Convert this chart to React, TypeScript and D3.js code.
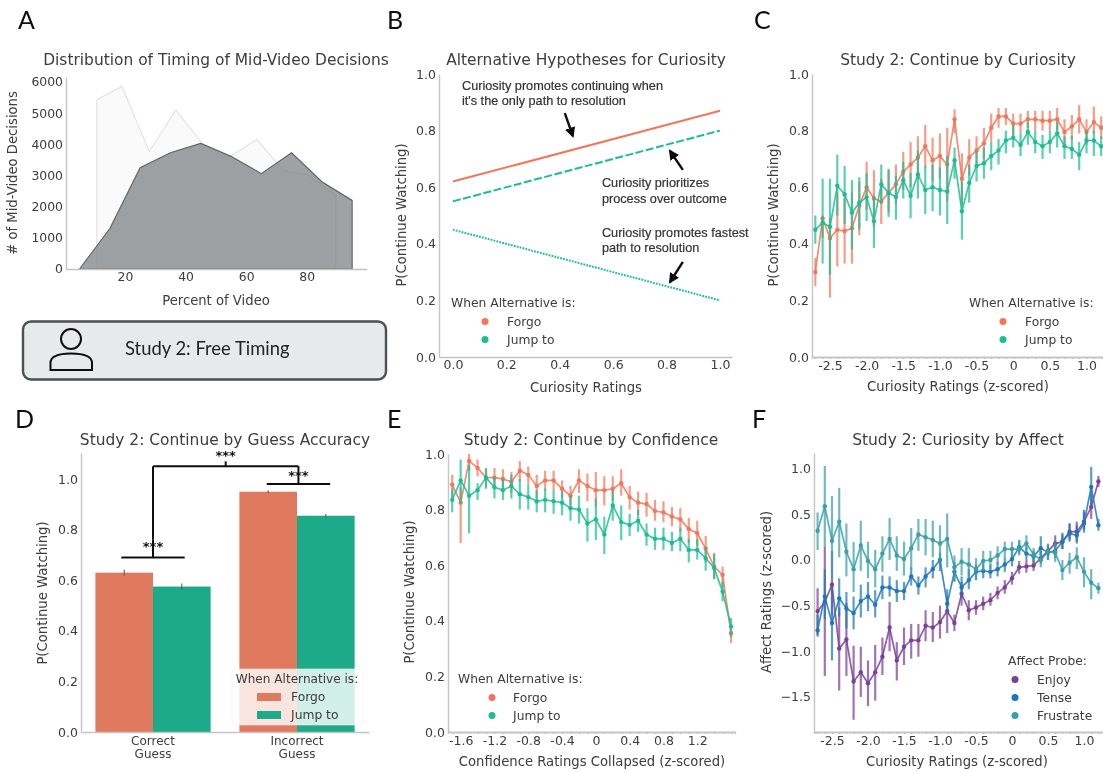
import React, { useEffect, useRef } from 'react';
import * as d3 from 'd3';

// colours
const FORGO = '#f0785a';
const JUMP = '#1dbd93';
const FORGO_BAR = '#e07a5f';
const JUMP_BAR = '#1aaa88';
const ENJOY = '#7b3f98';
const TENSE = '#1f78b8';
const FRUSTRATE = '#3a9fa8';
const INK = '#3c3c3c';
const SPINE = '#c4c4c4';
const FONT = '"DejaVu Sans", sans-serif';

// A: timing distributions
const backPct = [10.7, 19, 28, 36.8, 45.5, 54.5, 63.5, 72.5, 81, 89.6];
const backCount = [5430, 5860, 3770, 5100, 4030, 3600, 4150, 3150, 3000, 2350];
const frontPct = [5, 15, 25, 35, 45, 55, 65, 75, 85, 95];
const frontCount = [0, 1300, 3250, 3730, 4030, 3620, 3060, 3730, 2800, 2200];

// B: hypothesis lines
const hypX = [0, 1];
const hypForgo = [0.62, 0.87];
const hypJump = [0.55, 0.8];
const hypFastest = [0.45, 0.2];
const hypNotes = [
  { lines: ['Curiosity promotes continuing when', "it's the only path to resolution"], x: 0.034, y: [0.943, 0.89], from: [0.419, 0.862], to: [0.449, 0.781] },
  { lines: ['Curiosity prioritizes', 'process over outcome'], x: 0.558, y: [0.601, 0.544], from: [0.861, 0.661], to: [0.813, 0.728] },
  { lines: ['Curiosity promotes fastest', 'path to resolution'], x: 0.558, y: [0.424, 0.371], from: [0.861, 0.336], to: [0.813, 0.265] },
];

// C: continue by curiosity
const curiosityBins = [-2.7, -2.6, -2.5, -2.4, -2.3, -2.2, -2.1, -2.0, -1.9, -1.8, -1.7, -1.6, -1.5, -1.4, -1.3, -1.2, -1.1, -1.0, -0.9, -0.8, -0.7, -0.6, -0.5, -0.4, -0.3, -0.2, -0.1, 0, 0.1, 0.2, 0.3, 0.4, 0.5, 0.6, 0.7, 0.8, 0.9, 1.0, 1.1, 1.2];
const curForgo = [0.3, 0.49, 0.42, 0.45, 0.445, 0.455, 0.535, 0.6, 0.56, 0.55, 0.58, 0.61, 0.655, 0.68, 0.705, 0.745, 0.695, 0.71, 0.68, 0.84, 0.63, 0.705, 0.73, 0.755, 0.81, 0.85, 0.85, 0.825, 0.825, 0.84, 0.84, 0.835, 0.835, 0.84, 0.795, 0.815, 0.84, 0.795, 0.83, 0.81];
const curForgoLo = [0.25, 0.42, 0.21, 0.32, 0.33, 0.33, 0.43, 0.52, 0.46, 0.47, 0.51, 0.54, 0.59, 0.6, 0.63, 0.67, 0.62, 0.63, 0.55, 0.79, 0.54, 0.64, 0.68, 0.7, 0.76, 0.81, 0.82, 0.78, 0.79, 0.81, 0.8, 0.8, 0.8, 0.8, 0.75, 0.77, 0.79, 0.75, 0.79, 0.77];
const curForgoHi = [0.35, 0.5, 0.49, 0.58, 0.56, 0.58, 0.62, 0.69, 0.66, 0.63, 0.66, 0.68, 0.725, 0.76, 0.78, 0.82, 0.775, 0.79, 0.81, 0.875, 0.72, 0.77, 0.78, 0.81, 0.86, 0.88, 0.88, 0.86, 0.86, 0.87, 0.87, 0.87, 0.87, 0.88, 0.84, 0.855, 0.89, 0.84, 0.885, 0.85];
const curJump = [0.45, 0.475, 0.46, 0.605, 0.575, 0.51, 0.545, 0.565, 0.48, 0.61, 0.58, 0.565, 0.625, 0.57, 0.645, 0.59, 0.6, 0.59, 0.585, 0.695, 0.515, 0.615, 0.675, 0.685, 0.71, 0.73, 0.765, 0.775, 0.75, 0.795, 0.76, 0.745, 0.76, 0.79, 0.745, 0.735, 0.715, 0.765, 0.765, 0.745];
const curJumpLo = [0.4, 0.33, 0.29, 0.5, 0.47, 0.38, 0.45, 0.48, 0.385, 0.54, 0.495, 0.485, 0.56, 0.49, 0.56, 0.505, 0.515, 0.5, 0.47, 0.63, 0.415, 0.545, 0.62, 0.63, 0.66, 0.68, 0.72, 0.74, 0.71, 0.75, 0.72, 0.7, 0.72, 0.74, 0.7, 0.7, 0.66, 0.72, 0.71, 0.71];
const curJumpHi = [0.5, 0.63, 0.63, 0.715, 0.675, 0.625, 0.635, 0.65, 0.57, 0.68, 0.665, 0.64, 0.69, 0.65, 0.73, 0.675, 0.68, 0.67, 0.71, 0.74, 0.62, 0.68, 0.73, 0.74, 0.76, 0.77, 0.8, 0.82, 0.79, 0.83, 0.8, 0.785, 0.8, 0.83, 0.78, 0.78, 0.76, 0.8, 0.8, 0.78];

// D: guess accuracy bars
const guessGroups = [['Correct', 'Guess'], ['Incorrect', 'Guess']];
const guessForgo = [0.63, 0.95];
const guessForgoErr = [0.012, 0.006];
const guessJump = [0.575, 0.855];
const guessJumpErr = [0.012, 0.007];

// E: continue by confidence
const confidenceBins = [-1.7, -1.6, -1.5, -1.4, -1.3, -1.2, -1.1, -1.0, -0.9, -0.8, -0.7, -0.6, -0.5, -0.4, -0.3, -0.2, -0.1, 0, 0.1, 0.2, 0.3, 0.4, 0.5, 0.6, 0.7, 0.8, 0.9, 1.0, 1.1, 1.2, 1.3, 1.4, 1.5, 1.6];
const confForgo = [0.89, 0.825, 0.975, 0.95, 0.915, 0.915, 0.91, 0.9, 0.94, 0.925, 0.885, 0.905, 0.905, 0.875, 0.85, 0.905, 0.885, 0.87, 0.87, 0.875, 0.895, 0.845, 0.825, 0.82, 0.795, 0.79, 0.775, 0.765, 0.73, 0.715, 0.66, 0.595, 0.565, 0.355];
const confForgoLo = [0.84, 0.68, 0.94, 0.92, 0.88, 0.875, 0.87, 0.86, 0.9, 0.89, 0.84, 0.87, 0.87, 0.84, 0.815, 0.86, 0.83, 0.81, 0.815, 0.83, 0.85, 0.8, 0.78, 0.775, 0.76, 0.755, 0.74, 0.72, 0.68, 0.67, 0.61, 0.55, 0.52, 0.32];
const confForgoHi = [0.925, 0.88, 1.0, 0.98, 0.945, 0.95, 0.945, 0.935, 0.975, 0.955, 0.925, 0.94, 0.94, 0.905, 0.885, 0.945, 0.93, 0.935, 0.92, 0.92, 0.945, 0.885, 0.865, 0.86, 0.835, 0.83, 0.81, 0.805, 0.77, 0.76, 0.705, 0.645, 0.595, 0.385];
const confJump = [0.835, 0.905, 0.85, 0.87, 0.915, 0.88, 0.87, 0.885, 0.855, 0.845, 0.83, 0.835, 0.83, 0.825, 0.805, 0.8, 0.75, 0.765, 0.71, 0.815, 0.755, 0.745, 0.76, 0.71, 0.695, 0.695, 0.68, 0.695, 0.655, 0.655, 0.625, 0.59, 0.505, 0.38];
const confJumpLo = [0.79, 0.82, 0.715, 0.835, 0.875, 0.84, 0.835, 0.84, 0.8, 0.8, 0.79, 0.79, 0.785, 0.78, 0.76, 0.75, 0.685, 0.69, 0.64, 0.76, 0.69, 0.705, 0.72, 0.67, 0.655, 0.655, 0.65, 0.65, 0.61, 0.62, 0.58, 0.55, 0.47, 0.34];
const confJumpHi = [0.875, 0.98, 0.96, 0.895, 0.95, 0.92, 0.91, 0.925, 0.91, 0.89, 0.87, 0.875, 0.87, 0.865, 0.85, 0.85, 0.805, 0.84, 0.775, 0.87, 0.815, 0.785, 0.8, 0.75, 0.735, 0.735, 0.72, 0.735, 0.695, 0.695, 0.665, 0.64, 0.54, 0.41];

// F: curiosity by affect
const enjoyMean = [-0.56, -0.46, -0.27, -0.97, -0.87, -1.33, -1.23, -1.35, -1.23, -1.06, -0.74, -1.1, -0.95, -0.88, -0.88, -0.72, -0.74, -0.68, -0.56, -0.69, -0.37, -0.55, -0.52, -0.48, -0.44, -0.36, -0.3, -0.2, -0.08, -0.07, -0.06, 0.02, 0.1, 0.18, 0.2, 0.31, 0.31, 0.42, 0.58, 0.86];
const enjoyLo = [-0.82, -1.27, -0.6, -1.43, -1.27, -1.75, -1.5, -1.6, -1.54, -1.26, -1.0, -1.32, -1.15, -1.08, -1.06, -0.89, -0.9, -0.86, -0.8, -0.78, -0.5, -0.66, -0.6, -0.55, -0.5, -0.43, -0.37, -0.27, -0.15, -0.14, -0.12, -0.04, 0.03, 0.09, 0.12, 0.22, 0.2, 0.33, 0.45, 0.8];
const enjoyHi = [-0.31, 0.15, 0.1, -0.52, -0.47, -0.94, -0.95, -1.1, -0.93, -0.85, -0.46, -0.9, -0.74, -0.7, -0.7, -0.55, -0.57, -0.5, -0.4, -0.6, -0.24, -0.44, -0.44, -0.4, -0.36, -0.29, -0.22, -0.13, -0.01, 0, 0.02, 0.1, 0.17, 0.27, 0.28, 0.4, 0.42, 0.53, 0.72, 0.92];
const tenseMean = [-0.77, -0.4, -0.69, -0.42, -0.53, -0.58, -0.45, -0.4, -0.49, -0.3, -0.3, -0.34, -0.34, -0.18, -0.28, -0.18, -0.1, 0, -0.48, -0.13, -0.3, -0.22, -0.13, -0.12, -0.13, -0.1, -0.05, 0.01, 0.14, 0.07, 0.04, 0.13, 0.08, 0.1, 0.2, 0.29, 0.27, 0.4, 0.8, 0.38];
const tenseLo = [-0.84, -0.65, -1.1, -0.62, -0.75, -0.76, -0.63, -0.56, -0.63, -0.43, -0.4, -0.46, -0.44, -0.28, -0.38, -0.3, -0.2, -0.12, -0.58, -0.24, -0.42, -0.32, -0.22, -0.2, -0.2, -0.18, -0.13, -0.07, 0.07, 0, -0.03, 0.05, 0, 0.02, 0.12, 0.2, 0.18, 0.3, 0.6, 0.32];
const tenseHi = [-0.6, -0.1, -0.3, -0.2, -0.35, -0.4, -0.27, -0.24, -0.33, -0.17, -0.18, -0.22, -0.24, -0.08, -0.18, -0.08, 0, 0.08, -0.32, -0.02, -0.18, -0.1, -0.05, -0.04, -0.05, -0.02, 0.03, 0.1, 0.22, 0.15, 0.1, 0.26, 0.16, 0.18, 0.3, 0.4, 0.38, 0.55, 1.02, 0.45];
const frustrateMean = [0.32, 0.59, 0.21, 0.42, 0.09, -0.1, 0.16, -0.01, -0.1, 0.07, 0.23, 0.05, 0.01, 0.13, 0.28, 0.25, 0.22, 0.18, 0.23, -0.08, -0.02, -0.05, -0.1, -0.01, 0, 0.05, 0.12, 0.12, 0.12, 0.18, 0.06, 0, 0.09, 0.08, -0.11, -0.03, 0.03, -0.13, -0.25, -0.31];
const frustrateLo = [0.11, 0.15, -0.2, 0.03, -0.18, -0.35, -0.12, -0.2, -0.3, -0.13, 0, -0.12, -0.17, -0.1, 0.1, 0.05, 0.03, -0.02, -0.08, -0.23, -0.17, -0.2, -0.22, -0.12, -0.1, -0.05, 0.03, 0.03, 0.05, 0.1, -0.02, -0.08, 0, -0.02, -0.22, -0.15, -0.1, -0.3, -0.43, -0.37];
const frustrateHi = [0.52, 1.03, 0.7, 0.79, 0.4, 0.2, 0.43, 0.2, 0.11, 0.26, 0.46, 0.26, 0.2, 0.35, 0.45, 0.45, 0.43, 0.38, 0.51, 0.05, 0.13, 0.13, 0.02, 0.1, 0.1, 0.15, 0.2, 0.2, 0.2, 0.27, 0.13, 0.1, 0.18, 0.2, 0, 0.08, 0.14, 0.03, -0.1, -0.25];

const curiosityTicks = [-2.5, -2.0, -1.5, -1.0, -0.5, 0, 0.5, 1.0];
const confidenceTicks = [-1.6, -1.2, -0.8, -0.4, 0, 0.4, 0.8, 1.2];
const probTicks = [0, 0.2, 0.4, 0.6, 0.8, 1.0];
const affectTicks = [-1.5, -1.0, -0.5, 0, 0.5, 1.0];

// x ticks in the source use a plain hyphen, y ticks in F a real minus
const zeroOrFixed = (v: number) => (v === 0 ? '0' : d3.format('.1f')(v).replace('\u2212', '-'));

const TITLE = 15.45;
const AXIS_LABEL = 13.2;

function Axis({ side, scale, at, values, format, size = 0, pad = 3, fontSize = 12.5 }: any) {
  const ref = useRef<SVGGElement>(null);
  useEffect(() => {
    const axis = (side === 'left' ? d3.axisLeft(scale) : d3.axisBottom(scale))
      .tickValues(values)
      .tickSizeOuter(0)
      .tickSize(size)
      .tickPadding(pad)
      .tickFormat(format);
    const g = d3.select(ref.current).call(axis as any);
    g.attr('font-family', FONT).attr('font-size', fontSize);
    g.select('.domain').attr('stroke', SPINE).attr('stroke-width', 1.4);
    g.selectAll('.tick line').attr('stroke', '#aaa');
    g.selectAll('.tick text').attr('fill', INK);
  });
  return <g ref={ref} transform={side === 'left' ? `translate(${at},0)` : `translate(0,${at})`} />;
}

function Label({ x, y, children, size = 12.3, rotate = false, anchor = 'middle', fill = INK, weight }: any) {
  return (
    <text x={x} y={y} fontFamily={FONT} fontSize={size} fill={fill} textAnchor={anchor} fontWeight={weight}
      transform={rotate ? `rotate(-90 ${x} ${y})` : undefined}>
      {children}
    </text>
  );
}

function PanelLetter({ x, y, children }: any) {
  return <text x={x} y={y} fontFamily="Lato, sans-serif" fontSize={25} fill="#111">{children}</text>;
}

function DotLegend({ title, x, y, dotX, textX, items }: any) {
  return (
    <g>
      <Label x={x} y={y} anchor="start">{title}</Label>
      {items.map((it: any, i: number) => (
        <g key={it.name}>
          <circle cx={dotX} cy={y + 14.5 + i * 18} r={3.5} fill={it.color} />
          <Label x={textX} y={y + 19 + i * 18} anchor="start">{it.name}</Label>
        </g>
      ))}
    </g>
  );
}

// mean line with a vertical interval at every bin
function CiSeries({ xs, mean, lo, hi, color, x, y, ciWidth = 2.2 }: any) {
  const line = d3.line<number>().x((_, i) => x(xs[i])).y((d) => y(d));
  return (
    <g>
      {xs.map((b: number, i: number) => (
        <line key={b} x1={x(b)} x2={x(b)} y1={y(lo[i])} y2={y(hi[i])} stroke={color} strokeWidth={ciWidth} opacity={0.72} />
      ))}
      <path d={line(mean) as string} fill="none" stroke={color} strokeWidth={1.7} opacity={0.85} />
      {xs.map((b: number, i: number) => (
        <circle key={b} cx={x(b)} cy={y(mean[i])} r={2.2} fill={color} />
      ))}
    </g>
  );
}

function PanelA() {
  const x = d3.scaleLinear().domain([0.53, 99.9]).range([66, 367]);
  const y = d3.scaleLinear().domain([0, 6160]).range([269, 77]);
  const area = d3.area<[number, number]>().x((d) => x(d[0])).y0(y(0)).y1((d) => y(d[1]));
  const backPts = backPct.map((p, i) => [p, backCount[i]] as [number, number]);
  const frontPts = frontPct.map((p, i) => [p, frontCount[i]] as [number, number]);
  return (
    <g>
      <PanelLetter x={18} y={29}>A</PanelLetter>
      <Label x={216} y={65} size={TITLE}>Distribution of Timing of Mid-Video Decisions</Label>
      <path d={area(backPts) + 'Z'} fill="#fafafa" stroke="#e4e4e4" strokeWidth={1.2} />
      <path d={area(frontPts) + 'Z'} fill="#7f8488" fillOpacity={0.76} stroke="#5c6266" strokeWidth={1.1} />
      <Axis side="left" scale={y} at={66} values={[0, 1000, 2000, 3000, 4000, 5000, 6000]} format={d3.format('d')} fontSize={12.4} />
      <Axis side="bottom" scale={x} at={269} values={[20, 40, 60, 80]} format={d3.format('d')} fontSize={12.4} />
      <Label x={216} y={305} size={AXIS_LABEL}>Percent of Video</Label>
      <Label x={17} y={173} size={AXIS_LABEL} rotate>{'# of Mid-Video Decisions'}</Label>

      <rect x={23} y={321.5} width={363} height={58} rx={8} fill="#e8e9eb" stroke="#4b5056" strokeWidth={2.4} />
      <circle cx={71} cy={339} r={10} fill="none" stroke="#111" strokeWidth={2} />
      <path d="M50.5 370 V363 C50.5 356 60 353.5 71 353.5 C82 353.5 92 356 92 363 V370 Z" fill="none" stroke="#111" strokeWidth={2} />
      <text x={125} y={355} fontFamily="Lato, sans-serif" fontSize={18.4} fill="#222">Study 2: Free Timing</text>
    </g>
  );
}

function PanelB() {
  const x = d3.scaleLinear().domain([-0.052, 1.045]).range([439, 732]);
  const y = d3.scaleLinear().domain([0, 1]).range([357, 74]);
  const line = d3.line<number>().x((_, i) => x(hypX[i])).y((d) => y(d));
  return (
    <g>
      <PanelLetter x={387} y={29}>B</PanelLetter>
      <Label x={586} y={65} size={TITLE}>Alternative Hypotheses for Curiosity</Label>
      <path d={line(hypForgo) as string} stroke={FORGO} strokeWidth={2} fill="none" />
      <path d={line(hypJump) as string} stroke={JUMP} strokeWidth={2} strokeDasharray="8 2.5" fill="none" />
      <path d={line(hypFastest) as string} stroke={JUMP} strokeWidth={2} strokeDasharray="1.8 1.2" fill="none" />
      {hypNotes.map((n) => (
        <g key={n.lines[0]}>
          {n.lines.map((t, i) => (
            <text key={t} x={x(n.x)} y={y(n.y[i])} fontFamily='"Liberation Sans", sans-serif' fontSize={12.7} fill="#333" stroke="#333" strokeWidth={0.2}>{t}</text>
          ))}
          <line x1={x(n.from[0])} y1={y(n.from[1])} x2={x(n.to[0])} y2={y(n.to[1])} stroke="#111" strokeWidth={2.4} markerEnd="url(#arrowHead)" />
        </g>
      ))}
      <Axis side="left" scale={y} at={439} values={probTicks} format={d3.format('.1f')} />
      <Axis side="bottom" scale={x} at={357} values={probTicks} format={d3.format('.1f')} />
      <Label x={586} y={392} size={AXIS_LABEL}>Curiosity Ratings</Label>
      <Label x={406} y={215} size={AXIS_LABEL} rotate>P(Continue Watching)</Label>
      <DotLegend title="When Alternative is:" x={451} y={307} dotX={485} textX={507}
        items={[{ name: 'Forgo', color: FORGO }, { name: 'Jump to', color: JUMP }]} />
    </g>
  );
}

function PanelC() {
  const x = d3.scaleLinear().domain([-2.745, 1.225]).range([812, 1103]);
  const y = d3.scaleLinear().domain([0, 1]).range([357, 74]);
  return (
    <g>
      <PanelLetter x={754} y={29}>C</PanelLetter>
      <Label x={958} y={65} size={TITLE}>Study 2: Continue by Curiosity</Label>
      <CiSeries xs={curiosityBins} mean={curForgo} lo={curForgoLo} hi={curForgoHi} color={FORGO} x={x} y={y} />
      <CiSeries xs={curiosityBins} mean={curJump} lo={curJumpLo} hi={curJumpHi} color={JUMP} x={x} y={y} />
      <Axis side="left" scale={y} at={812} values={probTicks} format={d3.format('.1f')} />
      <Axis side="bottom" scale={x} at={357} values={curiosityBins} format={() => ''} size={2} />
      <Axis side="bottom" scale={x} at={357} values={curiosityTicks} format={zeroOrFixed} pad={4} />
      <Label x={958} y={391} size={AXIS_LABEL}>Curiosity Ratings (z-scored)</Label>
      <Label x={778} y={215} size={AXIS_LABEL} rotate>P(Continue Watching)</Label>
      <DotLegend title="When Alternative is:" x={969} y={307} dotX={1003} textX={1025}
        items={[{ name: 'Forgo', color: FORGO }, { name: 'Jump to', color: JUMP }]} />
    </g>
  );
}

function Bracket({ x1, x2, yBar, yStem, x, y, wide = 2 }: any) {
  const mid = (x1 + x2) / 2;
  return (
    <g stroke="#111" strokeWidth={wide} fill="none">
      <line x1={x(x1)} x2={x(x2)} y1={y(yBar)} y2={y(yBar)} />
      <line x1={x(mid)} x2={x(mid)} y1={y(yBar)} y2={y(yStem)} />
    </g>
  );
}

function PanelD() {
  const x = d3.scaleLinear().domain([-0.5, 1.5]).range([81, 369]);
  const y = d3.scaleLinear().domain([0, 1.103]).range([732, 453]);
  const half = 0.4;
  return (
    <g>
      <PanelLetter x={15} y={428}>D</PanelLetter>
      <Label x={225} y={445} size={TITLE}>Study 2: Continue by Guess Accuracy</Label>
      {guessGroups.map((_, i) => (
        <g key={i}>
          <rect x={x(i - half)} width={x(i) - x(i - half)} y={y(guessForgo[i])} height={y(0) - y(guessForgo[i])} fill={FORGO_BAR} />
          <rect x={x(i)} width={x(i + half) - x(i)} y={y(guessJump[i])} height={y(0) - y(guessJump[i])} fill={JUMP_BAR} />
          <line x1={x(i - half / 2)} x2={x(i - half / 2)} y1={y(guessForgo[i] - guessForgoErr[i])} y2={y(guessForgo[i] + guessForgoErr[i])} stroke="#555" />
          <line x1={x(i + half / 2)} x2={x(i + half / 2)} y1={y(guessJump[i] - guessJumpErr[i])} y2={y(guessJump[i] + guessJumpErr[i])} stroke="#555" />
        </g>
      ))}
      <Bracket x1={-0.22} x2={0.22} yBar={0.69} yStem={0.76} x={x} y={y} />
      <Bracket x1={0.79} x2={1.23} yBar={0.98} yStem={1.051} x={x} y={y} />
      <Bracket x1={0} x2={1.01} yBar={1.051} yStem={1.07} x={x} y={y} />
      <line x1={x(0)} x2={x(0)} y1={y(0.76)} y2={y(1.051)} stroke="#111" strokeWidth={2} />
      <Label x={x(0)} y={y(0.7) - 4} size={13} fill="#111" weight="bold">***</Label>
      <Label x={x(1.01)} y={y(0.99) - 2} size={13} fill="#111" weight="bold">***</Label>
      <Label x={x(0.505)} y={y(1.075)} size={13} fill="#111" weight="bold">***</Label>

      <rect x={232} y={669} width={131} height={56} rx={3} fill="#fff" fillOpacity={0.8} stroke="#eee" strokeOpacity={0.6} />
      <Label x={297} y={683} size={12.1}>When Alternative is:</Label>
      <rect x={257} y={693} width={24} height={8} fill={FORGO_BAR} />
      <rect x={257} y={711} width={24} height={8} fill={JUMP_BAR} />
      <Label x={291} y={701} anchor="start">Forgo</Label>
      <Label x={291} y={719} anchor="start">Jump to</Label>

      <Axis side="left" scale={y} at={81} values={probTicks} format={d3.format('.1f')} />
      <Axis side="bottom" scale={x} at={732} values={[]} format={() => ''} />
      {guessGroups.map((g, i) => (
        <g key={i}>
          <Label x={x(i)} y={745} size={12}>{g[0]}</Label>
          <Label x={x(i)} y={758} size={12}>{g[1]}</Label>
        </g>
      ))}
      <Label x={47} y={593} size={AXIS_LABEL} rotate>P(Continue Watching)</Label>
    </g>
  );
}

function PanelE() {
  const x = d3.scaleLinear().domain([-1.75, 1.647]).range([448, 735]);
  const y = d3.scaleLinear().domain([0, 1]).range([732, 454]);
  return (
    <g>
      <PanelLetter x={387} y={428}>E</PanelLetter>
      <Label x={591} y={445} size={TITLE}>Study 2: Continue by Confidence</Label>
      <CiSeries xs={confidenceBins} mean={confForgo} lo={confForgoLo} hi={confForgoHi} color={FORGO} x={x} y={y} />
      <CiSeries xs={confidenceBins} mean={confJump} lo={confJumpLo} hi={confJumpHi} color={JUMP} x={x} y={y} />
      <Axis side="left" scale={y} at={448} values={probTicks} format={d3.format('.1f')} />
      <Axis side="bottom" scale={x} at={732} values={confidenceBins} format={() => ''} size={2} />
      <Axis side="bottom" scale={x} at={732} values={confidenceTicks} format={zeroOrFixed} pad={4} />
      <Label x={592} y={766} size={AXIS_LABEL}>Confidence Ratings Collapsed (z-scored)</Label>
      <Label x={414} y={592} size={AXIS_LABEL} rotate>P(Continue Watching)</Label>
      <DotLegend title="When Alternative is:" x={458} y={683} dotX={492} textX={513}
        items={[{ name: 'Forgo', color: FORGO }, { name: 'Jump to', color: JUMP }]} />
    </g>
  );
}

function PanelF() {
  const x = d3.scaleLinear().domain([-2.75, 1.264]).range([814, 1103]);
  const y = d3.scaleLinear().domain([-1.884, 1.172]).range([732, 453]);
  return (
    <g>
      <PanelLetter x={752} y={428}>F</PanelLetter>
      <Label x={958} y={445} size={TITLE}>Study 2: Curiosity by Affect</Label>
      <CiSeries xs={curiosityBins} mean={enjoyMean} lo={enjoyLo} hi={enjoyHi} color={ENJOY} x={x} y={y} />
      <CiSeries xs={curiosityBins} mean={tenseMean} lo={tenseLo} hi={tenseHi} color={TENSE} x={x} y={y} />
      <CiSeries xs={curiosityBins} mean={frustrateMean} lo={frustrateLo} hi={frustrateHi} color={FRUSTRATE} x={x} y={y} />
      <Axis side="left" scale={y} at={814} values={affectTicks} format={d3.format('.1f')} />
      <Axis side="bottom" scale={x} at={732} values={curiosityBins} format={() => ''} size={2} />
      <Axis side="bottom" scale={x} at={732} values={curiosityTicks} format={zeroOrFixed} pad={4} />
      <Label x={957} y={766} size={AXIS_LABEL}>Curiosity Ratings (z-scored)</Label>
      <Label x={771} y={592} size={AXIS_LABEL} rotate>Affect Ratings (z-scored)</Label>
      <DotLegend title="Affect Probe:" x={1008} y={665} dotX={1015} textX={1037}
        items={[{ name: 'Enjoy', color: ENJOY }, { name: 'Tense', color: TENSE }, { name: 'Frustrate', color: FRUSTRATE }]} />
    </g>
  );
}

export default function App() {
  return (
    <svg width={1103} height={772} style={{ position: 'absolute', left: 0, top: 0, display: 'block', background: '#fff' }}>
      <defs>
        <filter id="soft" filterUnits="userSpaceOnUse" x={0} y={0} width={1103} height={772}>
          <feGaussianBlur stdDeviation={0.5} />
        </filter>
        <marker id="arrowHead" viewBox="0 0 10 10" refX={8} refY={5} markerWidth={4.4} markerHeight={4.4} orient="auto">
          <path d="M0 0 L10 5 L0 10 Z" fill="#111" />
        </marker>
      </defs>
      <g filter="url(#soft)">
        <PanelA />
        <PanelB />
        <PanelC />
        <PanelD />
        <PanelE />
        <PanelF />
      </g>
    </svg>
  );
}
